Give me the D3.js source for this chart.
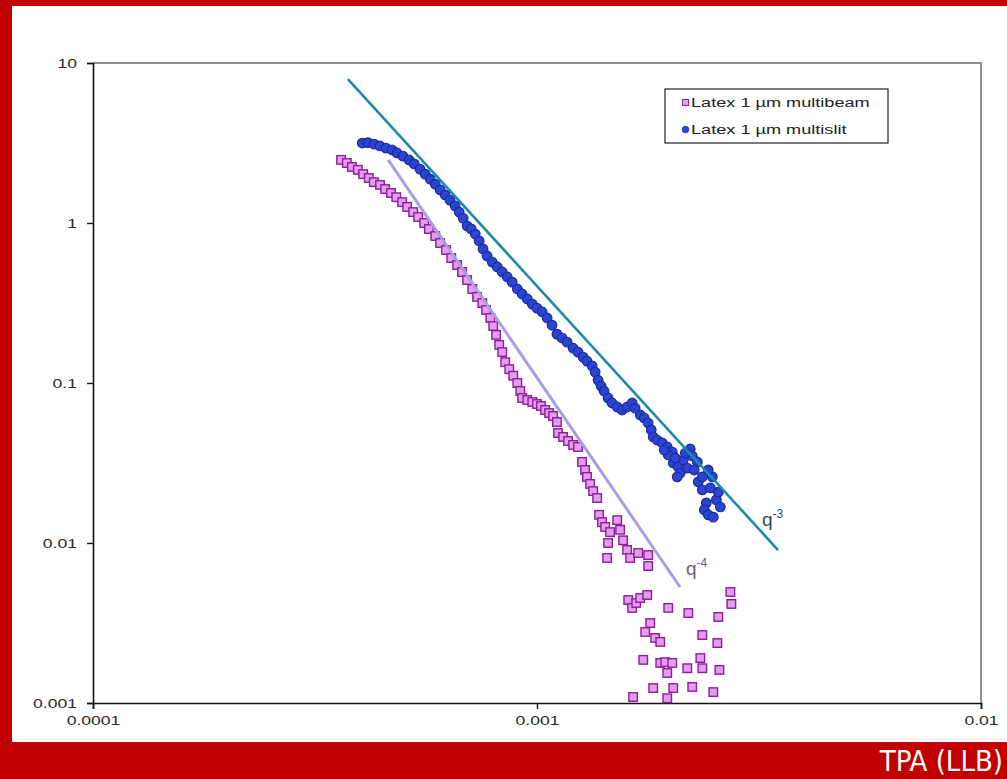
<!DOCTYPE html>
<html>
<head>
<meta charset="utf-8">
<script src="https://cdn.jsdelivr.net/npm/d3@7"></script>
<style>
  html, body { margin: 0; padding: 0; background: #fff; overflow: hidden; }
  svg { display: block; }
</style>
</head>
<body>
<svg id="chart" width="1007" height="779"></svg>
<script>
// Series names and axis ticks
const seriesNames = ["Latex 1 µm multibeam", "Latex 1 µm multislit"];
const xTickValues = [0.0001, 0.001, 0.01];
const xTickLabels = ["0.0001", "0.001", "0.01"];
const yTickValues = [0.001, 0.01, 0.1, 1, 10];
const yTickLabels = ["0.001", "0.01", "0.1", "1", "10"];
const footerText = "TPA (LLB)";

// Latex 1 µm, multibeam: q and intensity
const qMultibeam = [
  3.62e-4, 3.73e-4, 3.83e-4, 3.95e-4, 4.06e-4, 4.18e-4, 4.29e-4, 4.43e-4, 4.55e-4, 4.69e-4,
  4.82e-4, 4.97e-4, 5.10e-4, 5.26e-4, 5.40e-4, 5.57e-4, 5.71e-4, 5.90e-4, 6.05e-4, 6.24e-4,
  6.41e-4, 6.61e-4, 6.78e-4, 6.96e-4, 7.15e-4, 7.33e-4, 7.53e-4, 7.68e-4, 7.85e-4, 7.97e-4,
  8.09e-4, 8.22e-4, 8.35e-4, 8.48e-4, 8.66e-4, 8.84e-4, 9.03e-4, 9.17e-4, 9.26e-4, 9.51e-4,
  9.76e-4, 1.000e-3, 1.021e-3, 1.043e-3, 1.065e-3, 1.087e-3, 1.109e-3, 1.115e-3, 1.145e-3, 1.175e-3,
  1.206e-3, 1.237e-3, 1.263e-3, 1.283e-3, 1.296e-3, 1.317e-3, 1.338e-3, 1.366e-3, 1.380e-3, 1.401e-3,
  1.424e-3, 1.461e-3, 1.446e-3, 1.439e-3, 1.516e-3, 1.539e-3, 1.563e-3, 1.596e-3, 1.621e-3, 1.690e-3,
  1.780e-3, 1.780e-3, 1.605e-3, 1.638e-3, 1.673e-3, 1.708e-3, 1.771e-3, 1.975e-3, 2.192e-3, 2.561e-3,
  2.726e-3, 2.740e-3, 1.799e-3, 1.753e-3, 1.846e-3, 1.895e-3, 2.357e-3, 2.548e-3, 1.735e-3, 1.895e-3,
  1.945e-3, 2.017e-3, 1.965e-3, 2.180e-3, 2.333e-3, 2.357e-3, 2.575e-3, 1.646e-3, 1.827e-3, 2.027e-3,
  2.237e-3, 2.495e-3, 1.965e-3
];
const iMultibeam = [
  2.48, 2.37, 2.24, 2.15, 2.02, 1.91, 1.80, 1.73, 1.63, 1.54,
  1.45, 1.35, 1.26, 1.17, 1.09, 1.00, 0.917, 0.829, 0.750, 0.678,
  0.604, 0.546, 0.494, 0.440, 0.387, 0.345, 0.316, 0.286, 0.255, 0.227,
  0.200, 0.173, 0.156, 0.135, 0.122, 0.111, 0.100, 0.0891, 0.0806, 0.0783,
  0.0761, 0.0739, 0.0718, 0.0678, 0.0649, 0.0622, 0.0570, 0.0487, 0.0460, 0.0434,
  0.0410, 0.0398, 0.0321, 0.0286, 0.0259, 0.0234, 0.0211, 0.0191, 0.0150, 0.0135,
  0.0126, 0.0117, 0.0100, 0.00806, 0.0139, 0.0121, 0.0104, 0.00905, 0.00806, 0.00866,
  0.00841, 0.00718, 0.00440, 0.00393, 0.00422, 0.00453, 0.00473, 0.00393, 0.00365, 0.00345,
  0.00494, 0.00416, 0.00316, 0.00278, 0.00255, 0.00241, 0.00266, 0.00237, 0.00186, 0.00178,
  0.00180, 0.00178, 0.00154, 0.00165, 0.00191, 0.00165, 0.00161, 0.00109, 0.00124, 0.00124,
  0.00126, 0.00117, 0.00107
];

// Latex 1 µm, multislit: q and intensity
const qMultislit = [
  4.04e-4, 4.16e-4, 4.30e-4, 4.43e-4, 4.57e-4, 4.72e-4, 4.84e-4, 4.99e-4, 5.15e-4, 5.29e-4,
  5.45e-4, 5.60e-4, 5.75e-4, 5.90e-4, 6.05e-4, 6.21e-4, 6.37e-4, 6.54e-4, 6.68e-4, 6.82e-4,
  6.96e-4, 7.11e-4, 7.26e-4, 7.41e-4, 7.56e-4, 7.72e-4, 7.93e-4, 8.14e-4, 8.35e-4, 8.57e-4,
  8.79e-4, 9.03e-4, 9.26e-4, 9.51e-4, 9.76e-4, 1.000e-3, 1.027e-3, 1.054e-3, 1.081e-3, 1.109e-3,
  1.139e-3, 1.169e-3, 1.206e-3, 1.237e-3, 1.270e-3, 1.296e-3, 1.331e-3, 1.352e-3, 1.373e-3, 1.394e-3,
  1.416e-3, 1.446e-3, 1.476e-3, 1.516e-3, 1.555e-3, 1.596e-3, 1.638e-3, 1.664e-3, 1.708e-3, 1.744e-3,
  1.780e-3, 1.808e-3, 1.827e-3, 1.865e-3, 1.915e-3, 1.965e-3, 2.017e-3, 2.027e-3, 2.080e-3, 2.102e-3,
  2.069e-3, 2.180e-3, 2.214e-3, 2.237e-3, 2.297e-3, 2.308e-3, 2.357e-3, 2.357e-3, 2.406e-3, 2.382e-3,
  2.431e-3, 2.457e-3, 2.483e-3, 2.495e-3, 2.535e-3, 2.561e-3, 2.588e-3, 2.135e-3, 1.975e-3, 1.934e-3,
  2.048e-3, 2.158e-3, 2.260e-3, 2.431e-3
];
const iMultislit = [
  3.16, 3.18, 3.11, 3.03, 2.94, 2.86, 2.74, 2.62, 2.48, 2.34,
  2.17, 2.02, 1.88, 1.75, 1.61, 1.50, 1.39, 1.28, 1.17, 1.07,
  0.958, 0.917, 0.853, 0.772, 0.688, 0.622, 0.570, 0.531, 0.494, 0.460,
  0.427, 0.387, 0.360, 0.335, 0.311, 0.294, 0.278, 0.255, 0.230, 0.202,
  0.191, 0.180, 0.165, 0.156, 0.145, 0.137, 0.128, 0.117, 0.104, 0.0958,
  0.0891, 0.0806, 0.0750, 0.0708, 0.0678, 0.0708, 0.0750, 0.0696, 0.0631, 0.0604,
  0.0562, 0.0509, 0.0460, 0.0440, 0.0422, 0.0398, 0.0370, 0.0316, 0.0299, 0.0274,
  0.0259, 0.0294, 0.0387, 0.0350, 0.0321, 0.0241, 0.0259, 0.0215, 0.0178, 0.0161,
  0.0150, 0.0221, 0.0259, 0.0145, 0.0186, 0.0208, 0.0168, 0.0330, 0.0355, 0.0381,
  0.0340, 0.0365, 0.0286, 0.0286
];

// Power-law guide lines: end points (q, I)
const q3LineQ = [3.75e-4, 3.49e-3];
const q3LineI = [7.94, 0.00904];
const q4LineQ = [4.62e-4, 2.10e-3];
const q4LineI = [2.48, 0.00531];

// ---------------------------------------------------------------
const W = 1007, H = 779;
const svg = d3.select("#chart");
const RED = "#c00000";
const FONT = "'Liberation Sans', Arial, sans-serif";

// Stretch text horizontally (the chart labels are drawn wide)
function widen(sel, k) {
  sel.each(function () {
    const w = this.getComputedTextLength();
    this.setAttribute("textLength", (w * k).toFixed(1));
    this.setAttribute("lengthAdjust", "spacingAndGlyphs");
  });
}

// Slide frame
svg.append("rect").attr("x", 0).attr("y", 0).attr("width", W).attr("height", H).attr("fill", "#fff");
svg.append("rect").attr("x", 0).attr("y", 0).attr("width", W).attr("height", 6).attr("fill", RED);
svg.append("rect").attr("x", 0).attr("y", 0).attr("width", 12).attr("height", H).attr("fill", RED);
svg.append("rect").attr("x", 0).attr("y", 742).attr("width", W).attr("height", H - 742).attr("fill", RED);
svg.append("text")
  .attr("x", 1003).attr("y", 771)
  .attr("text-anchor", "end")
  .attr("fill", "#fff")
  .attr("font-family", "'Liberation Sans Narrow', 'DejaVu Sans Condensed', 'Open Sans', sans-serif")
  .attr("font-size", 29)
  .text(footerText);

// Scales
const x = d3.scaleLog().domain([1e-4, 1e-2]).range([93, 981]);
const y = d3.scaleLog().domain([1e-3, 10]).range([703, 63]);

// Plot frame (top and right)
svg.append("path")
  .attr("d", `M${x.range()[0]},${y.range()[1]}H${x.range()[1]}V${y.range()[0]}`)
  .attr("fill", "none").attr("stroke", "#8f8f8f").attr("stroke-width", 2);

// Axes
const xAxis = d3.axisBottom(x).tickValues(xTickValues)
  .tickFormat((d, i) => xTickLabels[i]).tickSize(6).tickPadding(6);
const yAxis = d3.axisLeft(y).tickValues(yTickValues)
  .tickFormat((d, i) => yTickLabels[i]).tickSize(6).tickPadding(10);

const gx = svg.append("g").attr("transform", `translate(0,${y.range()[0]})`).call(xAxis);
const gy = svg.append("g").attr("transform", `translate(${x.range()[0]},0)`).call(yAxis);
[gx, gy].forEach(g => {
  g.select(".domain").attr("stroke", "#111").attr("stroke-width", 1.6);
  g.selectAll(".tick line").attr("stroke", "#111").attr("stroke-width", 1.4);
  g.selectAll(".tick text").attr("font-family", FONT).attr("font-size", 13.5).attr("fill", "#2a2a2a");
});
widen(gx.selectAll(".tick text"), 1.3);
widen(gy.selectAll(".tick text"), 1.3);

// Data
const multibeam = qMultibeam.map((q, i) => ({ q, v: iMultibeam[i] }));
const multislit = qMultislit.map((q, i) => ({ q, v: iMultislit[i] }));

const SQ = 8.5;
svg.append("g").selectAll("rect").data(multibeam).join("rect")
  .attr("x", d => x(d.q) - SQ / 2).attr("y", d => y(d.v) - SQ / 2)
  .attr("width", SQ).attr("height", SQ)
  .attr("fill", "#e49cf0").attr("stroke", "#8a1f96").attr("stroke-width", 1.4);

svg.append("g").selectAll("circle").data(multislit).join("circle")
  .attr("cx", d => x(d.q)).attr("cy", d => y(d.v)).attr("r", 4.8)
  .attr("fill", "#2a45d4").attr("stroke", "#1c2a9c").attr("stroke-width", 1.2);

// Power-law guides
const line = d3.line().x(d => x(d[0])).y(d => y(d[1]));
svg.append("path")
  .attr("d", line(q4LineQ.map((q, i) => [q, q4LineI[i]])))
  .attr("stroke", "#a89ee6").attr("stroke-width", 3).attr("fill", "none");
svg.append("path")
  .attr("d", line(q3LineQ.map((q, i) => [q, q3LineI[i]])))
  .attr("stroke", "#1e8aa8").attr("stroke-width", 2.6).attr("fill", "none");

// Power-law labels
function powerLabel(px, py, exp, color) {
  const t = svg.append("text").attr("x", px).attr("y", py)
    .attr("font-family", FONT).attr("fill", color).attr("font-size", 19);
  t.append("tspan").text("q");
  t.append("tspan").attr("font-size", 12).attr("dy", -8).text(exp);
}
powerLabel(762, 526, "-3", "#2c4858");
powerLabel(686, 575, "-4", "#6e5a80");

// Legend
const lg = svg.append("g");
lg.append("rect").attr("x", 665).attr("y", 89).attr("width", 223).attr("height", 54)
  .attr("fill", "#fff").attr("stroke", "#222").attr("stroke-width", 1.2);
lg.append("rect").attr("x", 682.5).attr("y", 99.5).attr("width", 6).attr("height", 6)
  .attr("fill", "#e49cf0").attr("stroke", "#8a1f96").attr("stroke-width", 1);
lg.append("circle").attr("cx", 685.5).attr("cy", 129.5).attr("r", 3.3)
  .attr("fill", "#2a45d4").attr("stroke", "#1c2a9c").attr("stroke-width", 0.8);
const lt = lg.selectAll("text.lg").data(seriesNames).join("text")
  .attr("class", "lg")
  .attr("x", 691).attr("y", (d, i) => 107 + i * 27)
  .attr("font-family", FONT).attr("font-size", 12.5).attr("fill", "#222")
  .text(d => d);
widen(lt, 1.45);
</script>
</body>
</html>
